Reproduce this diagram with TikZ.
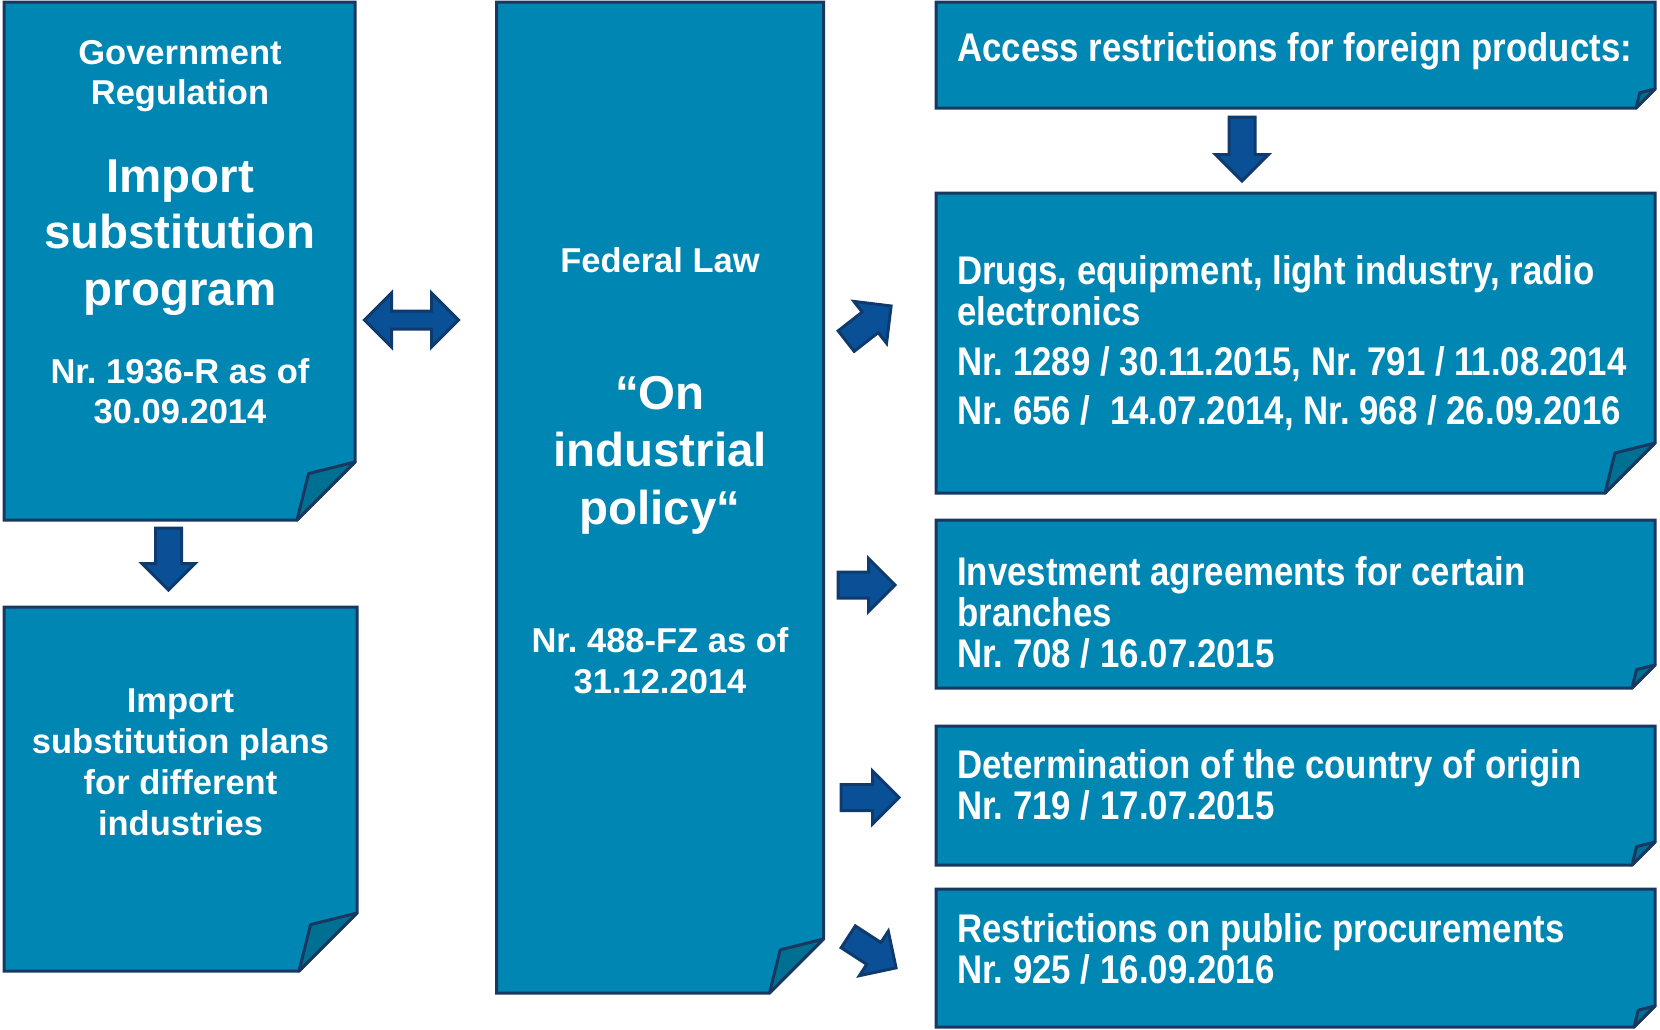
\documentclass[tikz,border=0pt]{standalone}
\usepackage{fontspec}
\setmainfont{Liberation Sans}
\newfontfamily\narrowsf{Liberation Sans}[FakeStretch=0.87]
\usetikzlibrary{shapes.arrows}
\frenchspacing

\definecolor{boxfill}{RGB}{0,134,179}
\definecolor{foldfill}{RGB}{0,112,146}
\definecolor{boxline}{RGB}{24,56,98}
\definecolor{arrowfill}{RGB}{10,80,150}
\definecolor{arrowline}{RGB}{14,58,110}

\tikzset{
  paper/.style={rectangle, inner sep=0pt, outer sep=0pt},
  papertext/.style={text=white, font=\bfseries\fontsize{34.5}{40}\selectfont,
    align=center, inner sep=0pt, anchor=base},
  bigtext/.style={papertext, font=\bfseries\fontsize{47.5}{56.5}\selectfont},
  listtext/.style={text=white, font=\narrowsf\bfseries\fontsize{40}{41}\selectfont,
    align=left, inner sep=0pt, anchor=base west},
  blockarrow/.style={single arrow, draw=arrowline, fill=arrowfill, line width=3pt,
    inner xsep=0pt, inner ysep=11.5pt, single arrow head extend=13.5pt, anchor=tail},
  twinarrow/.style={double arrow, draw=arrowline, fill=arrowfill, line width=3pt,
    inner xsep=0pt, inner ysep=7.5pt, double arrow head extend=18pt, minimum height=94pt}
}

% sheet with a dog-ear at the lower right corner
\newcommand{\FoldBox}[2]{%
  \filldraw[draw=boxline, fill=boxfill, line width=3pt]
    (#1.north west) -- (#1.north east) -- ([yshift=#2]#1.south east)
    -- ([xshift=-#2]#1.south east) -- (#1.south west) -- cycle;
  \filldraw[draw=boxline, fill=foldfill, line width=3pt, line join=round]
    ([yshift=#2]#1.south east) -- ([xshift=-0.8*#2,yshift=0.8*#2]#1.south east)
    -- ([xshift=-#2]#1.south east) -- cycle;
}

\begin{document}
\begin{tikzpicture}[x=1pt, y=-1pt]
  \useasboundingbox (0,0) rectangle (1660,1029);

  % sheets
  \node[paper, minimum width=351pt, minimum height=518pt] (gov) at (179.5,261) {};
  \node[paper, minimum width=353pt, minimum height=364pt] (plans) at (180.5,789) {};
  \node[paper, minimum width=327pt, minimum height=991pt] (law) at (660,497.5) {};
  \node[paper, minimum width=719pt, minimum height=106pt] (access) at (1295.5,55) {};
  \node[paper, minimum width=719pt, minimum height=300pt] (drugs) at (1295.5,343) {};
  \node[paper, minimum width=719pt, minimum height=168pt] (invest) at (1295.5,604) {};
  \node[paper, minimum width=719pt, minimum height=139pt] (origin) at (1295.5,795.5) {};
  \node[paper, minimum width=719pt, minimum height=138pt] (procure) at (1295.5,958) {};
  \FoldBox{gov}{58pt}
  \FoldBox{plans}{58pt}
  \FoldBox{law}{54pt}
  \FoldBox{access}{19pt}
  \FoldBox{drugs}{50pt}
  \FoldBox{invest}{23pt}
  \FoldBox{origin}{23pt}
  \FoldBox{procure}{21pt}

  % texts (placed at the baseline of their last line)
  \node[papertext] (govhead) at (180,104) {Government\\Regulation};
  \node[bigtext] (govtitle) at (180,305) {Import\\substitution\\program};
  \node[papertext] (govnr) at (180,423) {Nr. 1936-R as of\\30.09.2014};
  \node[papertext, font=\bfseries\fontsize{34.5}{41}\selectfont] (planstxt) at (180.5,835)
    {Import\\substitution plans\\for different\\industries};
  \node[papertext] (lawhead) at (660,272) {Federal Law};
  \node[bigtext, font=\bfseries\fontsize{47.5}{57.5}\selectfont] (lawtitle) at (660,524)
    {“On\\industrial\\policy“};
  \node[papertext, font=\bfseries\fontsize{34.5}{41}\selectfont] (lawnr) at (660,693)
    {Nr. 488-FZ as of\\31.12.2014};
  \node[listtext] (accesstxt) at (957,61) {Access restrictions for foreign products:};
  \node[listtext] (drugstxt) at (957,424) {Drugs, equipment, light industry, radio\\
    electronics\\[9pt]Nr. 1289 / 30.11.2015, Nr. 791 / 11.08.2014\\[8pt]
    Nr. 656 /\ \ 14.07.2014, Nr. 968 / 26.09.2016};
  \node[listtext] (investtxt) at (957,667)
    {Investment agreements for certain\\branches\\Nr. 708 / 16.07.2015};
  \node[listtext] (origintxt) at (957,819)
    {Determination of the country of origin\\Nr. 719 / 17.07.2015};
  \node[listtext] (procuretxt) at (957,983)
    {Restrictions on public procurements\\Nr. 925 / 16.09.2016};

  % block arrows
  \node[twinarrow] (govlaw) at (411.5,320) {};
  \node[blockarrow, minimum height=62pt, rotate=-90] (govdown) at (168.5,526.5) {};
  \node[blockarrow, minimum height=64pt, rotate=-90] (accessdown) at (1242,115.5) {};
  \node[blockarrow, minimum height=57pt, rotate=38] (todrugs) at (845,342) {};
  \node[blockarrow, minimum height=57pt] (toinvest) at (836.5,585) {};
  \node[blockarrow, minimum height=58pt] (toorigin) at (839.5,797.5) {};
  \node[blockarrow, minimum height=57pt, rotate=-33] (toprocure) at (847,936) {};
\end{tikzpicture}
\end{document}
